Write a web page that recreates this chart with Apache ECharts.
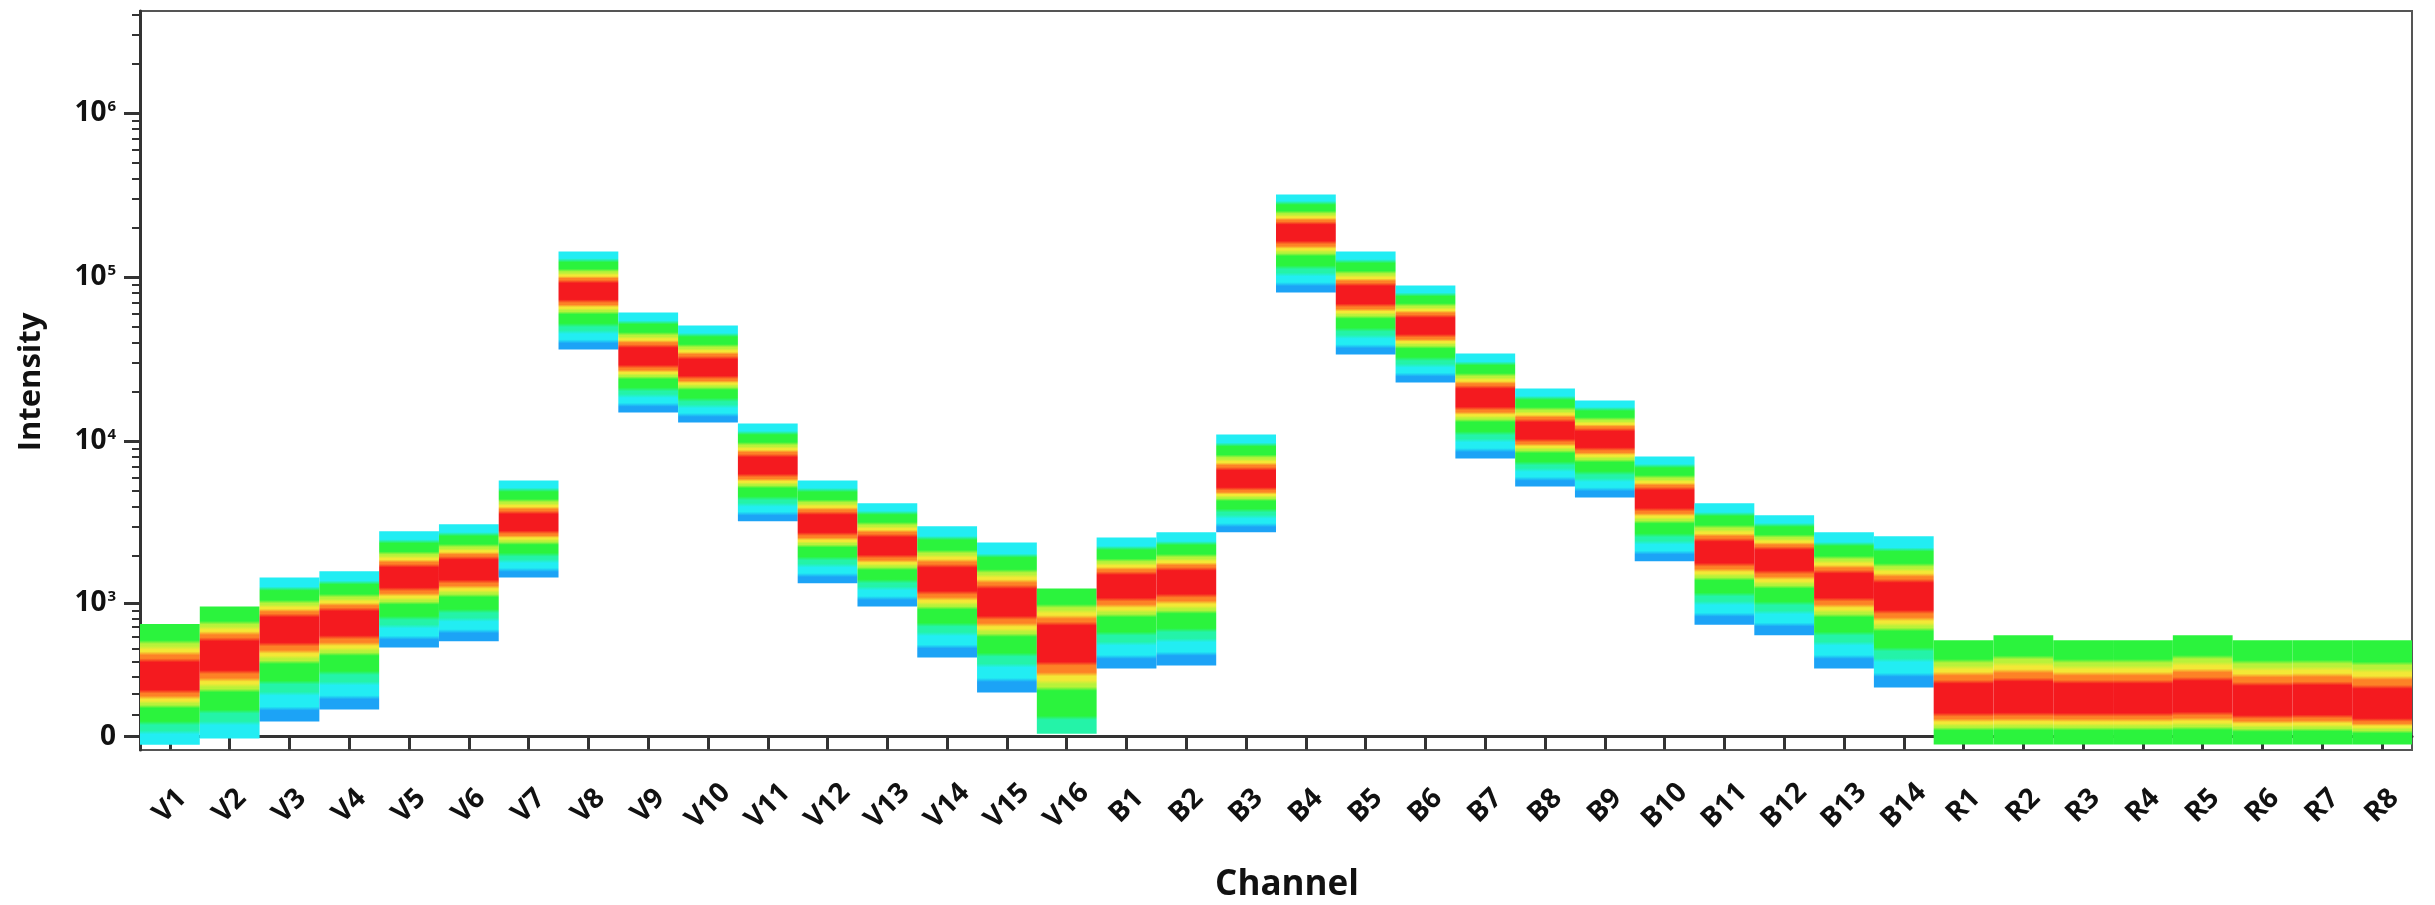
<!DOCTYPE html>
<html>
<head>
<meta charset="utf-8">
<script src="https://cdn.jsdelivr.net/npm/echarts@6/dist/echarts.min.js"></script>
<style>
html,body{margin:0;padding:0;background:#fff;}
#chart{width:2435px;height:905px;}
</style>
</head>
<body>
<div id="chart"></div>
<script>
// ---------------- data ----------------
const channels = ['V1','V2','V3','V4','V5','V6','V7','V8','V9','V10','V11','V12','V13','V14','V15','V16',
  'B1','B2','B3','B4','B5','B6','B7','B8','B9','B10','B11','B12','B13','B14',
  'R1','R2','R3','R4','R5','R6','R7','R8'];

// lowest visible intensity of each channel's distribution
const lowerEdge = [-36, -9, 67, 123, 507, 561, 1459, 36240, 14970, 13000, 3238, 1340, 956, 428, 208, 13,
  350, 370, 2770, 80600, 33760, 22800, 7840, 5290, 4535, 1840, 726, 618, 350, 235,
  -35, -35, -35, -35, -35, -35, -35, -35];
// intensity of the densest (red) part
const peakValue = [287, 441, 685, 752, 1459, 1637, 3149, 81700, 32380, 27750, 7010, 3106, 2270, 1415, 1014, 561,
  1300, 1377, 5760, 187200, 77340, 50040, 18210, 11460, 10240, 4410, 2083, 1890, 1300, 1108,
  157, 160, 157, 157, 165, 141, 145, 120];
// highest visible intensity
const upperEdge = [736, 956, 1459, 1592, 2815, 3106, 5760, 143300, 60870, 50740, 12830, 5760, 4171, 3015, 2402, 1244,
  2579, 2770, 10980, 319300, 143300, 89000, 34230, 20950, 17710, 8060, 4171, 3526, 2770, 2618,
  570, 618, 570, 570, 618, 570, 570, 570];
// density level at the top edge: 0 = lowest (cyan) band shown, 1 = starts at green
const topLevel = [1, 1, 0, 0, 0, 0, 0, 0, 0, 0, 0, 0, 0, 0, 0, 1,
  0, 0, 0, 0, 0, 0, 0, 0, 0, 0, 0, 0, 0, 0,
  1, 1, 1, 1, 1, 1, 1, 1];
// density level at the bottom edge: 0 = blue, 1 = cyan, 2 = teal, 3 = green
const bottomLevel = [1, 1, 0, 0, 0, 0, 0, 0, 0, 0, 0, 0, 0, 0, 0, 2,
  0, 0, 0, 0, 0, 0, 0, 0, 0, 0, 0, 0, 0, 0,
  3, 3, 3, 3, 3, 3, 3, 3];

const majorTicks = [0, 1e3, 1e4, 1e5, 1e6];
const majorTickLabels = ['0', '10^3', '10^4', '10^5', '10^6'];
const minorTicks = [100, 200, 300, 400, 500, 600, 700, 800, 900,
  2e3, 3e3, 4e3, 5e3, 6e3, 7e3, 8e3, 9e3,
  2e4, 3e4, 4e4, 5e4, 6e4, 7e4, 8e4, 9e4,
  2e5, 3e5, 4e5, 5e5, 6e5, 7e5, 8e5, 9e5,
  2e6, 3e6, 4e6];
const axisRange = [-60, 4.2e6];

// ---------------- scale (biexponential-like display) ----------------
const W_LIN = 316;
function T(v) { return Math.asinh(v / W_LIN) / Math.LN10; }

// density colour bands (jet-like), outer -> inner above the peak, inner -> outer below it
const UPPER_BANDS = [['#22edf3', 22], ['#2bf33d', 26], ['#b8f23a', 8], ['#f3e836', 8], ['#fd8226', 10], ['#f41a1f', 26]];
const LOWER_BANDS = [['#f41a1f', 17], ['#fd8226', 8], ['#f3e836', 6], ['#b8f23a', 5], ['#2bf33d', 22], ['#24f3a8', 12], ['#22edf3', 16], ['#1ca3f6', 14]];

function bandStops(bands, y0, y1, yRef, H, out) {
  const total = bands.reduce((s, b) => s + b[1], 0);
  const len = y1 - y0;
  let acc = 0;
  bands.forEach(b => {
    const a = y0 + len * acc / total;
    acc += b[1];
    const e = y0 + len * acc / total;
    const bl = Math.min(2, (e - a) / 3);
    out.push([(a + bl - yRef) / H, b[0]]);
    out.push([(e - bl - yRef) / H, b[0]]);
  });
}

const FONT = '"Open Sans", "Noto Sans", sans-serif';
const AX = '#333';

const seriesData = channels.map((c, i) => [i, lowerEdge[i], peakValue[i], upperEdge[i], topLevel[i], bottomLevel[i]]);

const chart = echarts.init(document.getElementById('chart'), null, {renderer: 'canvas'});
chart.setOption({
  animation: false,
  backgroundColor: '#fff',
  grid: {left: 140, right: 23, top: 11, bottom: 155, show: true, borderColor: '#555', borderWidth: 2, outerBoundsMode: 'none'},
  xAxis: {
    type: 'category',
    data: channels,
    boundaryGap: true,
    axisLine: {show: true, lineStyle: {color: AX, width: 3}},
    axisTick: {show: true, alignWithLabel: true, length: 13, lineStyle: {color: AX, width: 3}},
    axisLabel: {interval: 0, rotate: 45, align: 'center', verticalAlign: 'middle', margin: 56,
      fontSize: 28, fontWeight: 'bold', fontFamily: FONT, color: '#111'},
    splitLine: {show: false}
  },
  yAxis: [{
    type: 'value',
    min: T(axisRange[0]), max: T(axisRange[1]),
    axisLine: {show: true, lineStyle: {color: AX, width: 3}},
    axisTick: {show: true, inside: false, length: 16, lineStyle: {color: AX, width: 3}, customValues: majorTicks.map(T)},
    axisLabel: {
      show: true, margin: 24, customValues: majorTicks.map(T),
      formatter: function (val) {
        let k = 0, best = Infinity;
        majorTicks.forEach((t, j) => { const d = Math.abs(T(t) - val); if (d < best) { best = d; k = j; } });
        const s = majorTickLabels[k];
        if (s.indexOf('^') >= 0) { const p = s.split('^'); return '{b|' + p[0] + '}{s|' + p[1] + '}'; }
        return '{b|' + s + '}';
      },
      rich: {
        b: {fontSize: 28, fontWeight: 'bold', fontFamily: FONT, color: '#111'},
        s: {fontSize: 15, fontWeight: 'bold', fontFamily: FONT, color: '#111', verticalAlign: 'top', padding: [0, 0, 0, 1]}
      }
    },
    splitLine: {show: false}
  }, {
    type: 'value',
    position: 'left', offset: 0,
    min: T(axisRange[0]), max: T(axisRange[1]),
    axisLine: {show: false},
    axisTick: {show: true, inside: false, length: 8, lineStyle: {color: AX, width: 2}, customValues: minorTicks.map(T)},
    axisLabel: {show: false},
    splitLine: {show: false}
  }],
  graphic: [
    {type: 'text', x: 31, y: 382, rotation: Math.PI / 2,
      style: {text: 'Intensity', font: 'bold 31px ' + FONT, fill: '#111', align: 'center', verticalAlign: 'middle'}},
    {type: 'text', x: 1287, y: 885,
      style: {text: 'Channel', font: 'bold 35px ' + FONT, fill: '#111', align: 'center', verticalAlign: 'middle'}}
  ],
  series: [{
    type: 'custom',
    coordinateSystem: 'cartesian2d',
    silent: true,
    data: seriesData,
    encode: {x: 0, y: [1, 3]},
    renderItem: function (params, api) {
      const i = api.value(0);
      const lo = T(api.value(1)), pk = T(api.value(2)), hi = T(api.value(3));
      const tl = api.value(4), bl = api.value(5);
      const pTop = api.coord([i, hi]);
      const pPk = api.coord([i, pk]);
      const pLo = api.coord([i, lo]);
      const w = api.size([1, 0])[0];
      const yTop = pTop[1], yPk = pPk[1], yBot = pLo[1];
      const H = yBot - yTop;
      const stops = [];
      bandStops(UPPER_BANDS.slice(tl), yTop, yPk, yTop, H, stops);
      bandStops(LOWER_BANDS.slice(0, LOWER_BANDS.length - bl), yPk, yBot, yTop, H, stops);
      let prev = 0;
      const cs = stops.map(s => {
        let o = Math.max(prev, Math.min(1, Math.max(0, s[0])));
        prev = o;
        return {offset: o, color: s[1]};
      });
      const cs2 = params.coordSys;
      const rect = echarts.graphic.clipRectByRect(
        {x: pTop[0] - w / 2, y: yTop, width: w, height: H},
        {x: cs2.x, y: cs2.y, width: cs2.width, height: cs2.height});
      if (!rect) return null;
      return {
        type: 'rect',
        shape: rect,
        style: {fill: new echarts.graphic.LinearGradient(0, yTop, 0, yBot, cs, true)}
      };
    }
  }]
});
</script>
</body>
</html>
